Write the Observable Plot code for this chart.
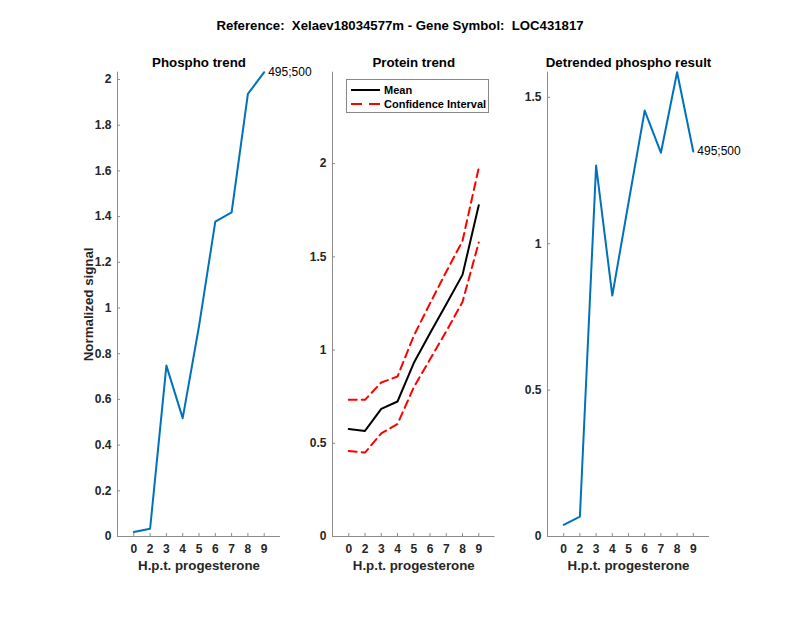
<!DOCTYPE html>
<html><head><meta charset="utf-8">
<script src="https://cdn.jsdelivr.net/npm/d3@7"></script>
<script src="https://cdn.jsdelivr.net/npm/@observablehq/plot@0.6"></script>
<style>
body{margin:0;background:#fff;font-family:"Liberation Sans",Arial,Helvetica,sans-serif;}
#wrap{position:relative;width:800px;height:618px;overflow:hidden;}
#wrap svg{position:absolute;left:0;top:0;background:transparent;overflow:visible;}
#suptitle{position:absolute;left:0;width:800px;top:18px;text-align:center;font-weight:bold;font-size:13.2px;color:#000;white-space:pre;}
#legend{position:absolute;left:346px;top:79px;width:143px;height:34px;border:1px solid #888;background:#fff;box-sizing:border-box;font-size:11px;font-weight:bold;color:#000;white-space:nowrap;}
#legend .row{position:absolute;left:0;height:14px;display:flex;align-items:center;white-space:nowrap;}
#legend svg{position:static;}
</style></head><body>
<div id="wrap">
  <div id="suptitle"></div>
</div>
<script>
// ---- data ----
const timeLabels = ["0","2","3","4","5","6","7","8","9"];
const phospho = [0.02, 0.034, 0.748, 0.518, 0.92, 1.378, 1.418, 1.937, 2.032];
const proteinMean = [0.577, 0.566, 0.684, 0.724, 0.93, 1.09, 1.245, 1.403, 1.777];
const proteinUpper = [0.733, 0.733, 0.826, 0.858, 1.076, 1.25, 1.42, 1.585, 1.977];
const proteinLower = [0.459, 0.45, 0.553, 0.603, 0.80, 0.95, 1.10, 1.258, 1.577];
const detrended = [0.04, 0.068, 1.267, 0.823, 1.14, 1.455, 1.311, 1.586, 1.315];
const peptideLabel = "495;500";
const suptitle = "Reference:  Xelaev18034577m - Gene Symbol:  LOC431817";
const titles = ["Phospho trend", "Protein trend", "Detrended phospho result"];
const xLabel = "H.p.t. progesterone";
const yLabel = "Normalized signal";
const legendLabels = ["Mean", "Confidence Interval"];
const phosphoTicks = [0, 0.2, 0.4, 0.6, 0.8, 1, 1.2, 1.4, 1.6, 1.8, 2];
const proteinTicks = [0, 0.5, 1, 1.5, 2];
const detrendedTicks = [0, 0.5, 1, 1.5];

const wrap = document.getElementById("wrap");
document.getElementById("suptitle").textContent = suptitle;

const W = 800, H = 618, TOP = 71.7, BOTTOM = 82;
const BLUE = "#0072BD", AXIS = "#8c8c8c", TXT = "#262626";
const idx = (d, i) => i + 1;

function panel({left, right, yMax, yTicks, title, marks}) {
  return Plot.plot({
    width: W, height: H,
    marginLeft: left, marginRight: W - right, marginTop: TOP, marginBottom: BOTTOM,
    style: {fontFamily: '"Liberation Sans", Arial, Helvetica, sans-serif', fontSize: "12px", fontWeight: "bold", background: "transparent", overflow: "visible"},
    x: {domain: [0, 10]},
    y: {domain: [0, yMax]},
    marks: [
      Plot.ruleX([0], {stroke: AXIS, strokeWidth: 1}),
      Plot.ruleY([0], {stroke: AXIS, strokeWidth: 1}),
      Plot.axisX(d3.range(1, 10), {tickSize: -3, tickPadding: 10.5, stroke: AXIS, fill: TXT, tickFormat: i => timeLabels[i - 1], label: null}),
      Plot.axisY(yTicks, {tickSize: -3, tickPadding: 9, stroke: AXIS, fill: TXT, tickFormat: d3.format("~g"), label: null}),
      Plot.text([title], {frameAnchor: "top", dy: -15, fontSize: 13.3, fontWeight: "bold", fill: "#000"}),
      Plot.text([xLabel], {frameAnchor: "bottom", dy: 33, fontSize: 13.3, fontWeight: "bold", fill: TXT}),
      ...marks
    ]
  });
}

const p1 = panel({
  left: 117, right: 280, yMax: d3.max(phospho), yTicks: phosphoTicks, title: titles[0],
  marks: [
    Plot.lineY(phospho, {x: idx, y: d => d, stroke: BLUE, strokeWidth: 2}),
    Plot.text([phospho[phospho.length - 1]], {x: phospho.length, y: d => d, text: () => peptideLabel, textAnchor: "start", dx: 4, fontWeight: "normal", fontSize: 12, fill: "#000"}),
    Plot.text([yLabel], {frameAnchor: "left", textAnchor: "middle", rotate: -90, dx: -29, fontSize: 13.3, fontWeight: "bold", fill: TXT})
  ]
});

const p2 = panel({
  left: 332, right: 494.5, yMax: 2.49, yTicks: proteinTicks, title: titles[1],
  marks: [
    Plot.lineY(proteinUpper, {x: idx, y: d => d, stroke: "#ff0000", strokeWidth: 2, strokeDasharray: "8,5"}),
    Plot.lineY(proteinLower, {x: idx, y: d => d, stroke: "#ff0000", strokeWidth: 2, strokeDasharray: "8,5"}),
    Plot.lineY(proteinMean, {x: idx, y: d => d, stroke: "#000", strokeWidth: 2})
  ]
});

const p3 = panel({
  left: 547, right: 709, yMax: d3.max(detrended), yTicks: detrendedTicks, title: titles[2],
  marks: [
    Plot.lineY(detrended, {x: idx, y: d => d, stroke: BLUE, strokeWidth: 2}),
    Plot.text([detrended[detrended.length - 1]], {x: detrended.length, y: d => d, text: () => peptideLabel, textAnchor: "start", dx: 4, fontWeight: "normal", fontSize: 12, fill: "#000"})
  ]
});

wrap.append(p1, p2, p3);

// legend
const lg = document.createElement("div");
lg.id = "legend";
const rows = [
  {label: legendLabels[0], color: "#000", dash: null, top: 2.5},
  {label: legendLabels[1], color: "#ff0000", dash: "11,7", top: 17}
];
for (const r of rows) {
  const row = document.createElement("div");
  row.className = "row";
  row.style.top = r.top + "px";
  row.innerHTML = `<svg width="33" height="14" style="margin-left:4px"><line x1="0" x2="29" y1="7" y2="7" stroke="${r.color}" stroke-width="2" ${r.dash ? `stroke-dasharray="${r.dash}"` : ""}/></svg><span>${r.label}</span>`;
  lg.appendChild(row);
}
wrap.appendChild(lg);
</script>
</body></html>
